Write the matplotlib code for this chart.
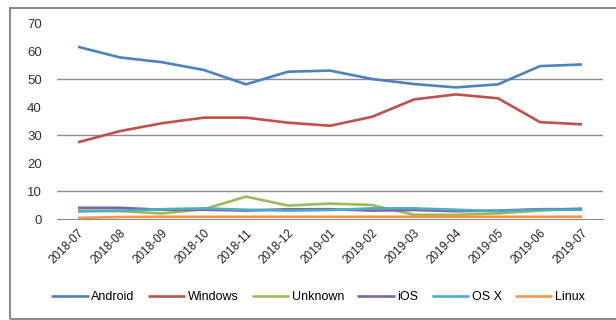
import matplotlib
matplotlib.use('Agg')
import matplotlib.pyplot as plt
from matplotlib.patches import Rectangle

plt.rcParams['font.family'] = ['Liberation Sans', 'DejaVu Sans']

months = ['2018-07', '2018-08', '2018-09', '2018-10', '2018-11', '2018-12', '2019-01',
          '2019-02', '2019-03', '2019-04', '2019-05', '2019-06', '2019-07']
android = [61.5, 57.7, 56.0, 53.2, 48.1, 52.6, 53.0, 50.0, 48.2, 47.0, 48.1, 54.6, 55.2]
windows = [27.4, 31.4, 34.2, 36.2, 36.2, 34.4, 33.3, 36.5, 42.7, 44.5, 43.1, 34.6, 33.8]
unknown = [3.0, 2.8, 2.0, 3.5, 8.0, 4.8, 5.5, 5.0, 1.5, 1.5, 2.0, 3.0, 3.8]
ios = [4.0, 4.0, 3.3, 3.3, 3.0, 3.5, 3.5, 3.0, 3.2, 2.8, 3.0, 3.5, 3.5]
osx = [2.7, 3.0, 3.5, 3.8, 3.3, 3.0, 3.2, 3.8, 3.8, 3.3, 2.8, 3.3, 3.3]
linux = [0.4, 0.7, 0.8, 0.8, 0.8, 0.8, 0.8, 0.8, 0.8, 0.8, 0.8, 0.8, 0.8]

series = [('Android', android, '#4F81BD'), ('Windows', windows, '#C0504D'),
          ('Unknown', unknown, '#9BBB59'), ('iOS', ios, '#8064A2'),
          ('OS X', osx, '#4BACC6'), ('Linux', linux, '#F79646')]

fig = plt.figure(figsize=(6.16, 3.2), dpi=100)
ax = fig.add_axes([57 / 616, 1 - 219 / 320, 546 / 616, 196 / 320])

x = range(len(months))
for name, vals, col in series:
    ax.plot(x, vals, color=col, lw=1.9, label=name, solid_capstyle='butt')

ax.set_xlim(-0.5, len(months) - 0.5)
ax.set_ylim(0, 70)
ax.set_yticks(range(0, 71, 10))
for g in [10, 30, 50]:
    ax.axhline(g, color='#8c8c8c', lw=1.0, zorder=0)
ax.set_xticks(list(x))
ax.set_xticklabels(months, rotation=45, ha='right', rotation_mode='anchor', fontsize=8.5)
ax.tick_params(axis='y', labelsize=9.5, length=0, pad=11, labelcolor='#333333')
ax.tick_params(axis='x', length=0, pad=6, labelcolor='#222222')
for s in ['top', 'right', 'left']:
    ax.spines[s].set_visible(False)
ax.spines['bottom'].set_color('#8c8c8c')

fig.legend(loc='center', bbox_to_anchor=(318 / 616, 1 - 297 / 320), ncol=6, frameon=False,
           fontsize=9, handlelength=3.0, handletextpad=0.2, columnspacing=1.05)

fig.patches.append(Rectangle((10 / 616, 1 / 320), 1.0, 311 / 320, transform=fig.transFigure,
                             fill=False, edgecolor='#8c8c8c', lw=1.5))

fig.savefig('out.png', dpi=100)
